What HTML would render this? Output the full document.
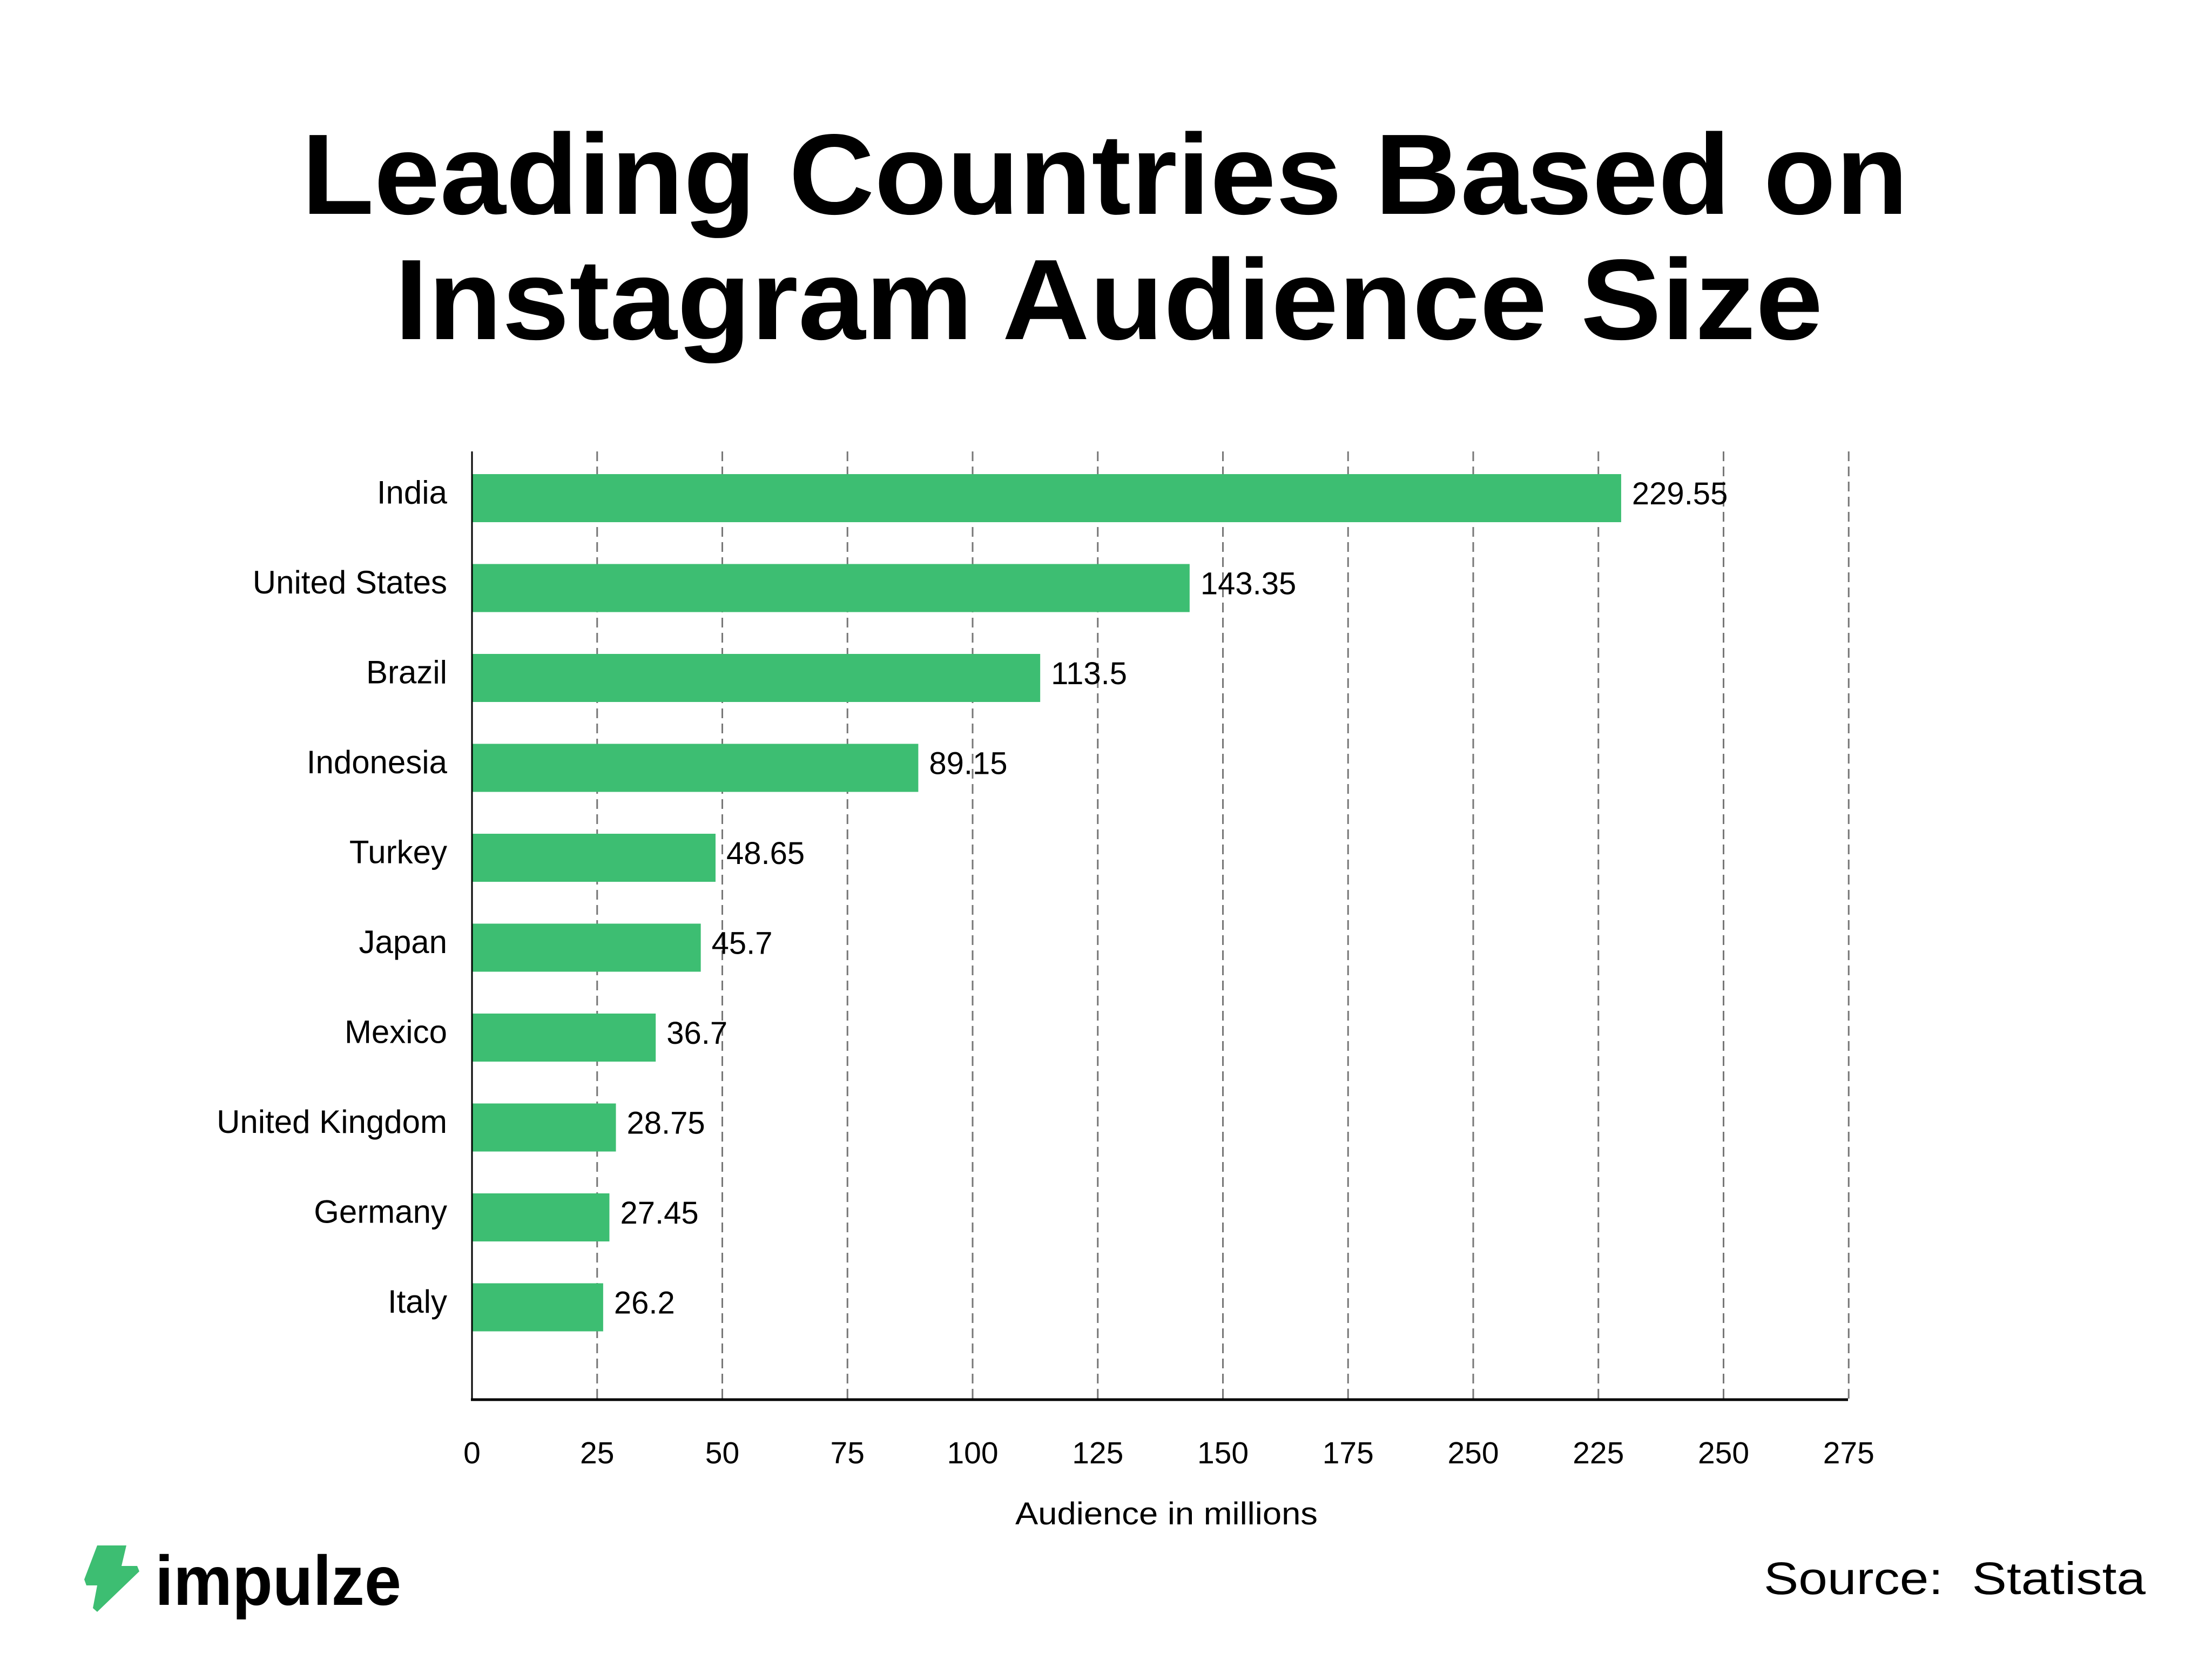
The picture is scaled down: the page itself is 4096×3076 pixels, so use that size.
<!DOCTYPE html>
<html><head><meta charset="utf-8"><style>
html,body{margin:0;padding:0;background:#fff}
svg{display:block}
text{font-family:"Liberation Sans",sans-serif;fill:#000}
</style></head><body>
<svg id="chart" width="4096" height="3076" viewBox="0 0 4096 3076" xmlns="http://www.w3.org/2000/svg">
<rect width="4096" height="3076" fill="#fff"/>
<text x="2046" y="396" text-anchor="middle" font-size="212" font-weight="bold" textLength="2975" lengthAdjust="spacingAndGlyphs">Leading Countries Based on</text>
<text x="2053" y="628" text-anchor="middle" font-size="212" font-weight="bold" textLength="2645" lengthAdjust="spacingAndGlyphs">Instagram Audience Size</text>
<g id="grid"></g>
<g id="bars"></g>
<g id="xticks"></g>
<line x1="874" y1="836" x2="874" y2="2594" stroke="#000" stroke-width="3"/>
<line x1="872" y1="2592" x2="3422" y2="2592" stroke="#000" stroke-width="5"/>
<text x="2160" y="2823" text-anchor="middle" font-size="58" textLength="560" lengthAdjust="spacingAndGlyphs">Audience in millions</text>
<polygon points="180,2862 234,2862 225,2900 254,2900 258,2910 180,2985 172,2978 180,2936 160,2936 156,2925" fill="#3dbe72"/>
<text x="287" y="2972" font-size="130" font-weight="bold" textLength="456" lengthAdjust="spacingAndGlyphs">impulze</text>
<text x="3266" y="2952" font-size="84" textLength="707" lengthAdjust="spacingAndGlyphs" xml:space="preserve">Source:  Statista</text>
</svg>
<script>
const categories = ["India","United States","Brazil","Indonesia","Turkey","Japan","Mexico","United Kingdom","Germany","Italy"];
const values = [229.55,143.35,113.5,89.15,48.65,45.7,36.7,28.75,27.45,26.2];
const valueLabels = ["229.55","143.35","113.5","89.15","48.65","45.7","36.7","28.75","27.45","26.2"];
const tickValues = [0,25,50,75,100,125,150,175,200,225,250,275];
const tickLabels = ["0","25","50","75","100","125","150","175","250","225","250","275"];

const NS = "http://www.w3.org/2000/svg";
const X0 = 874, PX = 9.27, Y0 = 878, PITCH = 166.5, BH = 89;
const xs = v => X0 + v * PX;
const yb = i => Y0 + i * PITCH;
function mk(tag, attrs, parent, txt){
  const e = document.createElementNS(NS, tag);
  for (const k in attrs) e.setAttribute(k, attrs[k]);
  if (txt !== undefined) e.textContent = txt;
  parent.appendChild(e);
  return e;
}
const grid = document.getElementById('grid');
const bars = document.getElementById('bars');
const xt = document.getElementById('xticks');
tickValues.forEach((t, i) => {
  if (i > 0) {
    const l = mk('line', {x1: xs(t), x2: xs(t), y1: 836, y2: 2592, stroke: '#777', 'stroke-width': 3, 'stroke-dasharray': '18,10'}, grid);
    
    
  }
  const tx = mk('text', {x: xs(t), y: 2710, 'text-anchor': 'middle', 'font-size': 57}, xt, tickLabels[i]);
  
  
});
categories.forEach((c, i) => {
  const y = yb(i);
  const r = mk('rect', {x: X0, y: y, width: xs(values[i]) - X0, height: BH, fill: '#3dbe72'}, bars);
  
  
  const lab = mk('text', {x: 828, y: y + BH/2 - 6, 'text-anchor': 'end', 'font-size': 60, 'dominant-baseline': 'middle'}, bars, c);
  
  
  const v = mk('text', {x: xs(values[i]) + 20, y: y + BH/2 - 4, 'font-size': 58, 'dominant-baseline': 'middle'}, bars, valueLabels[i]);
  
  
});
</script>
</body></html>
